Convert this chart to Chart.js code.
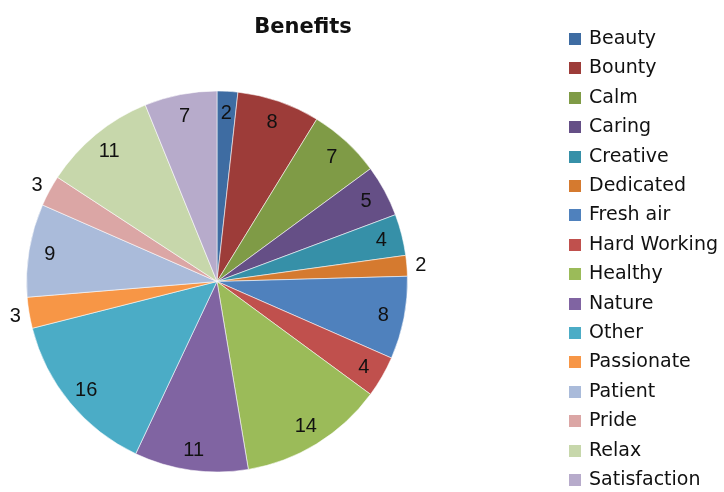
<!DOCTYPE html>
<html>
<head>
<meta charset="utf-8">
<script src="https://cdn.jsdelivr.net/npm/chart.js@4/dist/chart.umd.min.js"></script>
<style>
  html,body{ margin:0; padding:0; background:#fff; }
  #wrap{ position:relative; width:724px; height:492px; }
</style>
</head>
<body>
<div id="wrap"><canvas id="c" width="724" height="492"></canvas></div>
<script>
  // data
  const categories = ['Beauty','Bounty','Calm','Caring','Creative','Dedicated','Fresh air','Hard Working',
    'Healthy','Nature','Other','Passionate','Patient','Pride','Relax','Satisfaction'];
  const counts = [2, 8, 7, 5, 4, 2, 8, 4, 14, 11, 16, 3, 9, 3, 11, 7];
  const title = 'Benefits';

  const colors = ['#3e6ca2','#9d3c39','#7f9b46','#654f86','#3690a8','#d57a2f',
    '#4f81bd','#c0504d','#9bbb59','#8064a2','#4bacc6','#f79646',
    '#aabbda','#dba6a5','#c7d7ab','#b7abcb'];
  // slices whose number sits outside the pie (as in the reference)
  const outsideLabels = ['Dedicated','Passionate','Pride'];

  // numbers on slices
  const sliceLabels = {
    id:'sliceLabels',
    afterDatasetsDraw(chart){
      const ctx = chart.ctx;
      const meta = chart.getDatasetMeta(0);
      ctx.save();
      ctx.font = '20px "Liberation Sans", Arial, sans-serif';
      ctx.fillStyle = '#111';
      ctx.textAlign = 'center';
      ctx.textBaseline = 'middle';
      meta.data.forEach((arc, i)=>{
        const mid = (arc.startAngle + arc.endAngle)/2;
        const out = outsideLabels.includes(categories[i]);
        const r = out ? arc.outerRadius + 14 : arc.outerRadius - 21;
        const x = arc.x + Math.cos(mid)*r;
        const y = arc.y + Math.sin(mid)*r;
        ctx.fillText(String(counts[i]), x, y + 1);
      });
      ctx.restore();
    }
  };

  // title + legend on the right
  const sideText = {
    id:'sideText',
    afterDraw(chart){
      const ctx = chart.ctx;
      ctx.save();
      ctx.fillStyle = '#111';
      ctx.font = 'bold 21px "DejaVu Sans", sans-serif';
      ctx.textAlign = 'center';
      ctx.textBaseline = 'alphabetic';
      ctx.fillText(title, 303, 33);

      ctx.font = '19px "DejaVu Sans", sans-serif';
      ctx.textAlign = 'left';
      ctx.textBaseline = 'middle';
      categories.forEach((name, i)=>{
        const y = 39 + i*29.4;
        ctx.fillStyle = colors[i];
        ctx.fillRect(569, Math.round(y - 6), 12, 12);
        ctx.fillStyle = '#111';
        ctx.fillText(name, 589, y);
      });
      ctx.restore();
    }
  };

  new Chart(document.getElementById('c').getContext('2d'), {
    type:'pie',
    data:{ labels:categories, datasets:[{ data:counts, backgroundColor:colors,
      borderColor:'rgba(255,255,255,0.55)', borderWidth:1 }]},
    options:{
      responsive:false,
      animation:false,
      layout:{ padding:{ left:26, top:90, right:316, bottom:19 } },
      plugins:{ legend:{ display:false }, tooltip:{ enabled:false }, title:{ display:false } }
    },
    plugins:[sliceLabels, sideText]
  });
</script>
</body>
</html>
